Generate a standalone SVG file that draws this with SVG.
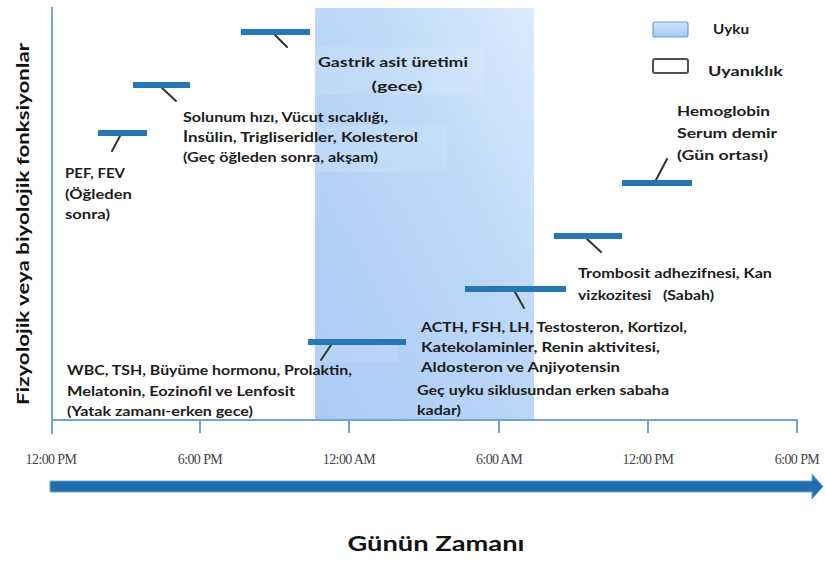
<svg xmlns="http://www.w3.org/2000/svg" width="825" height="562" viewBox="0 0 825 562">
<style>
.lbl{font-family:Lato,"Open Sans","Liberation Sans",sans-serif;font-weight:700;font-size:13.5px;fill:#1c1c1c}
.tick{font-family:"Liberation Serif","DejaVu Serif",serif;font-size:14px;fill:#444;text-anchor:middle;letter-spacing:-0.6px}
.bar{stroke:#2677b6;stroke-width:6}
.lead{stroke:#333;stroke-width:2;stroke-linecap:round}
.axis{stroke:#6ea6da;stroke-width:2;fill:none}
.ttl{font-family:Lato,"Open Sans","Liberation Sans",sans-serif;font-weight:700;fill:#111}
</style>
<defs>
<linearGradient id="sleep" x1="0" y1="1" x2="1" y2="0">
<stop offset="0" stop-color="#a9cbf5"/>
<stop offset="0.6" stop-color="#bed9f9"/>
<stop offset="1" stop-color="#dcebfd"/>
</linearGradient>
<linearGradient id="arrowg" x1="0" y1="0" x2="0" y2="1">
<stop offset="0" stop-color="#4d93cf"/>
<stop offset="0.3" stop-color="#1f6aa9"/>
<stop offset="1" stop-color="#2672b2"/>
</linearGradient>
<linearGradient id="legg" x1="0" y1="0" x2="0" y2="1">
<stop offset="0" stop-color="#d2e5fb"/>
<stop offset="1" stop-color="#9fc6f2"/>
</linearGradient>
</defs>
<rect width="825" height="562" fill="#fff"/>
<g id="sleep-region">
<rect x="315" y="8" width="219" height="412" fill="url(#sleep)"/>
<rect x="315" y="47" width="170" height="48" fill="#fff" opacity="0.12"/>
<rect x="315" y="125" width="132" height="47" fill="#fff" opacity="0.12"/>
<rect x="315" y="345" width="83" height="17" fill="#fff" opacity="0.1"/>
</g>
<g id="axes">
<line class="axis" x1="52" y1="7" x2="52" y2="434"/>
<path class="axis" d="M52 420H797V433M200 420V433M349 420V433M499 420V433M648 420V433"/>
<text class="tick" x="51" y="464">12:00 PM</text>
<text class="tick" x="200" y="464">6:00 PM</text>
<text class="tick" x="349" y="464">12:00 AM</text>
<text class="tick" x="499" y="464">6:00 AM</text>
<text class="tick" x="648" y="464">12:00 PM</text>
<text class="tick" x="797" y="464">6:00 PM</text>
<path d="M50 481H812V474L823 486.5L812 499V492H50Z" fill="url(#arrowg)" stroke="#6aa5d9" stroke-width="1"/>
<text class="ttl" font-size="21" x="436" y="551" text-anchor="middle" textLength="177" lengthAdjust="spacingAndGlyphs">Günün Zamanı</text>
<text class="ttl" font-size="17.5" transform="translate(29,224) rotate(-90)" text-anchor="middle" textLength="362" lengthAdjust="spacingAndGlyphs">Fizyolojik veya biyolojik fonksiyonlar</text>
</g>
<g id="legend">
<rect x="653" y="22" width="35" height="15" rx="2" fill="url(#legg)" stroke="#6f9fd6" stroke-width="1.2"/>
<text class="lbl" font-size="15" x="713" y="34" textLength="36" lengthAdjust="spacingAndGlyphs">Uyku</text>
<rect x="653" y="59" width="35" height="14" rx="2" fill="#fff" stroke="#505050" stroke-width="2"/>
<text class="lbl" font-size="15" x="708" y="76" textLength="75" lengthAdjust="spacingAndGlyphs">Uyanıklık</text>
</g>
<g id="connectors">
<line class="lead" x1="120" y1="136" x2="112" y2="151"/>
<line class="lead" x1="162" y1="88" x2="176" y2="101"/>
<line class="lead" x1="275" y1="35" x2="287" y2="47"/>
<line class="lead" x1="331" y1="345" x2="321" y2="360"/>
<line class="lead" x1="515" y1="292" x2="524" y2="308"/>
<line class="lead" x1="587" y1="239" x2="601" y2="252"/>
<line class="lead" x1="656" y1="180" x2="667" y2="159"/>
</g>
<g id="pef">
<line class="bar" x1="98" y1="133" x2="147" y2="133"/>
<text class="lbl" x="65" y="178" textLength="60" lengthAdjust="spacingAndGlyphs">PEF, FEV</text>
<text class="lbl" x="65" y="199" textLength="67" lengthAdjust="spacingAndGlyphs">(Öğleden</text>
<text class="lbl" x="65" y="219" textLength="45" lengthAdjust="spacingAndGlyphs">sonra)</text>
</g>
<g id="solunum">
<line class="bar" x1="133" y1="85" x2="190" y2="85"/>
<text class="lbl" x="183" y="122" textLength="205" lengthAdjust="spacingAndGlyphs">Solunum hızı, Vücut sıcaklığı,</text>
<text class="lbl" x="183" y="142" textLength="235" lengthAdjust="spacingAndGlyphs">İnsülin, Trigliseridler, Kolesterol</text>
<text class="lbl" x="183" y="162" textLength="195" lengthAdjust="spacingAndGlyphs">(Geç öğleden sonra, akşam)</text>
</g>
<g id="gastrik">
<line class="bar" x1="241" y1="32" x2="310" y2="32"/>
<text class="lbl" font-size="14" x="393" y="67" text-anchor="middle" textLength="150" lengthAdjust="spacingAndGlyphs">Gastrik asit üretimi</text>
<text class="lbl" font-size="14" x="397" y="91" text-anchor="middle" textLength="51" lengthAdjust="spacingAndGlyphs">(gece)</text>
</g>
<g id="wbc">
<line class="bar" x1="308" y1="342" x2="406" y2="342"/>
<text class="lbl" x="67" y="375" textLength="285" lengthAdjust="spacingAndGlyphs">WBC, TSH, Büyüme hormonu, Prolaktin,</text>
<text class="lbl" x="67" y="396" textLength="228" lengthAdjust="spacingAndGlyphs">Melatonin, Eozinofil ve Lenfosit</text>
<text class="lbl" x="67" y="416" textLength="186" lengthAdjust="spacingAndGlyphs">(Yatak zamanı-erken gece)</text>
</g>
<g id="acth">
<line class="bar" x1="465" y1="289" x2="566" y2="289"/>
<text class="lbl" x="421" y="332" textLength="266" lengthAdjust="spacingAndGlyphs">ACTH, FSH, LH, Testosteron, Kortizol,</text>
<text class="lbl" x="421" y="352" textLength="239" lengthAdjust="spacingAndGlyphs">Katekolaminler, Renin aktivitesi,</text>
<text class="lbl" x="421" y="372" textLength="199" lengthAdjust="spacingAndGlyphs">Aldosteron ve Anjiyotensin</text>
<text class="lbl" x="417" y="395" textLength="252" lengthAdjust="spacingAndGlyphs">Geç uyku siklusundan erken sabaha</text>
<text class="lbl" x="417" y="415" textLength="44" lengthAdjust="spacingAndGlyphs">kadar)</text>
</g>
<g id="trombosit">
<line class="bar" x1="554" y1="236" x2="622" y2="236"/>
<text class="lbl" x="578" y="278" textLength="194" lengthAdjust="spacingAndGlyphs">Trombosit adhezifnesi, Kan</text>
<text class="lbl" x="578" y="300" xml:space="preserve" textLength="136" lengthAdjust="spacingAndGlyphs">vizkozitesi   (Sabah)</text>
</g>
<g id="hemoglobin">
<line class="bar" x1="622" y1="183" x2="692" y2="183"/>
<text class="lbl" font-size="14" x="677" y="116" textLength="93" lengthAdjust="spacingAndGlyphs">Hemoglobin</text>
<text class="lbl" font-size="14" x="677" y="138" textLength="100" lengthAdjust="spacingAndGlyphs">Serum demir</text>
<text class="lbl" font-size="14" x="677" y="160" textLength="91" lengthAdjust="spacingAndGlyphs">(Gün ortası)</text>
</g>
</svg>
